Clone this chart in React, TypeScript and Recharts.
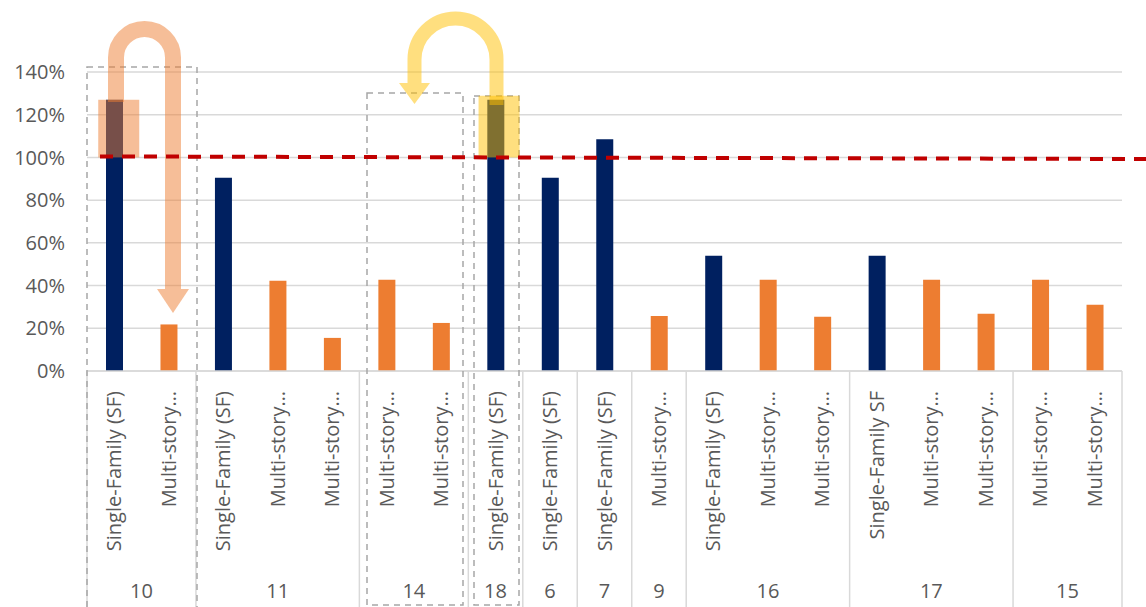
import React from "react";
import { Bar, BarChart, CartesianGrid, XAxis, YAxis } from "recharts";

const categories = [
  "Single-Family (SF)", "Multi-story…",
  "Single-Family (SF)", "Multi-story…", "Multi-story…",
  "Multi-story…", "Multi-story…",
  "Single-Family (SF)",
  "Single-Family (SF)",
  "Single-Family (SF)",
  "Multi-story…",
  "Single-Family (SF)", "Multi-story…", "Multi-story…",
  "Single-Family SF", "Multi-story…", "Multi-story…",
  "Multi-story…", "Multi-story…",
];
const groups = ["10", "10", "11", "11", "11", "14", "14", "18", "6", "7", "9", "16", "16", "16", "17", "17", "17", "15", "15"];
const singleFamily = [1.27, null, 0.905, null, null, null, null, 1.27, 0.905, 1.085, null, 0.54, null, null, 0.54, null, null, null, null];
const multiStory = [null, 0.218, null, 0.423, 0.155, 0.427, 0.225, null, null, null, 0.258, null, 0.427, 0.254, null, 0.427, 0.268, 0.427, 0.31];
const yTicks = [0, 0.2, 0.4, 0.6, 0.8, 1.0, 1.2, 1.4];

const data = categories.map((name, i) => ({
  key: i,
  name,
  group: groups[i],
  sf: singleFamily[i],
  multi: multiStory[i],
}));

const W = 1146;
const H = 607;
const PLOT_LEFT = 87;
const PLOT_RIGHT = 1122;
const PLOT_TOP = 72;
const PLOT_BOTTOM = 371;
const Y_MAX = 1.4;
const BAND = (PLOT_RIGHT - PLOT_LEFT) / categories.length;
const FONT = "'Open Sans', sans-serif";
const FONT_SIZE = 20;
const TEXT = "#595959";
const LINE = "#D9D9D9";
const NAVY = "#002060";
const ORANGE = "#ED7D31";
const GOLD = "#FFC000";

const xOf = (i: number) => PLOT_LEFT + (i + 0.5) * BAND;
const yOf = (v: number) => PLOT_TOP + (PLOT_BOTTOM - PLOT_TOP) * (1 - v / Y_MAX);

function CategoryTick(props: any) {
  const { x, payload } = props;
  const i = payload.index;
  const first = i === 0 || groups[i] !== groups[i - 1];
  let end = i;
  while (end + 1 < groups.length && groups[end + 1] === groups[i]) end++;
  const groupCenter = (xOf(i) + xOf(end)) / 2;
  return (
    <g>
      <text
        x={x}
        y={PLOT_BOTTOM + 20}
        transform={`rotate(-90 ${x} ${PLOT_BOTTOM + 20})`}
        textAnchor="end"
        dy="0.35em"
        fill={TEXT}
        fontSize={FONT_SIZE}
        fontFamily={FONT}
      >
        {categories[i]}
      </text>
      {first && (
        <>
          <line x1={x - BAND / 2} x2={x - BAND / 2} y1={PLOT_BOTTOM} y2={H} stroke={LINE} strokeWidth={1.5} />
          <text x={groupCenter} y={598} textAnchor="middle" fill={TEXT} fontSize={FONT_SIZE} fontFamily={FONT}>
            {groups[i]}
          </text>
        </>
      )}
      {i === groups.length - 1 && (
        <line x1={x + BAND / 2} x2={x + BAND / 2} y1={PLOT_BOTTOM} y2={H} stroke={LINE} strokeWidth={1.5} />
      )}
    </g>
  );
}

function Annotations() {
  const sfTop = yOf(singleFamily[0] as number);
  const goldTop = yOf(singleFamily[7] as number);
  const base = yOf(1.0);
  const box = { fill: "none", stroke: "#A6A6A6", strokeWidth: 1.5, strokeDasharray: "6 5" };
  return (
    <svg width={W} height={H} style={{ position: "absolute", left: 0, top: 0, pointerEvents: "none" }}>
      {/* dashed boxes */}
      <rect x={PLOT_LEFT} y={67} width={110} height={H - 67 + 5} {...box} />
      <rect x={367} y={93} width={96} height={512} {...box} />
      <rect x={474} y={96} width={45} height={509} {...box} />

      {/* highlight rectangles */}
      <rect x={xOf(0) - 16} y={sfTop} width={41} height={base - sfTop} fill={ORANGE} fillOpacity={0.5} />
      <rect x={xOf(7) - 17} y={goldTop - 4} width={41} height={base - goldTop + 4} fill={GOLD} fillOpacity={0.5} />

      {/* orange loop arrow */}
      <path d="M 116 102 L 116 57.5 A 28.5 28.5 0 0 1 173 57.5 L 173 289" fill="none" stroke={ORANGE} strokeOpacity={0.5} strokeWidth={16} />
      <path d="M 157 289 L 189 289 L 173 313 Z" fill={ORANGE} fillOpacity={0.5} />

      {/* gold loop arrow */}
      <path d="M 496.5 105 L 496.5 59.5 A 41 41 0 0 0 414.5 59.5 L 414.5 83" fill="none" stroke={GOLD} strokeOpacity={0.5} strokeWidth={14} />
      <path d="M 399 83 L 430 83 L 414.5 104 Z" fill={GOLD} fillOpacity={0.5} />

      {/* 100% target */}
      <line x1={100} y1={base - 1} x2={W} y2={base + 1.6} stroke="#C00000" strokeWidth={4} strokeDasharray="13 9" />
    </svg>
  );
}

export default function App() {
  return (
    <div style={{ position: "relative", width: W, height: H, background: "#fff" }}>
      <style>{`body { margin: 0; }`}</style>
      <BarChart
        width={W}
        height={H}
        data={data}
        margin={{ top: PLOT_TOP, right: W - PLOT_RIGHT, left: 0, bottom: 0 }}
        barCategoryGap={0}
      >
        <CartesianGrid vertical={false} stroke={LINE} strokeWidth={1.5} />
        <XAxis
          dataKey="key"
          interval={0}
          height={H - PLOT_BOTTOM}
          tickLine={false}
          tickSize={0}
          axisLine={{ stroke: LINE, strokeWidth: 1.5 }}
          tick={<CategoryTick />}
        />
        <YAxis
          domain={[0, Y_MAX]}
          ticks={yTicks}
          width={PLOT_LEFT}
          axisLine={false}
          tickLine={false}
          tickSize={0}
          tickMargin={22}
          tickFormatter={(v: number) => `${Math.round(v * 100)}%`}
          tick={{ fill: TEXT, fontSize: FONT_SIZE, fontFamily: FONT }}
        />
        <Bar dataKey="sf" stackId="a" fill={NAVY} barSize={17} isAnimationActive={false} />
        <Bar dataKey="multi" stackId="a" fill={ORANGE} barSize={17} isAnimationActive={false} />
      </BarChart>
      <Annotations />
    </div>
  );
}
